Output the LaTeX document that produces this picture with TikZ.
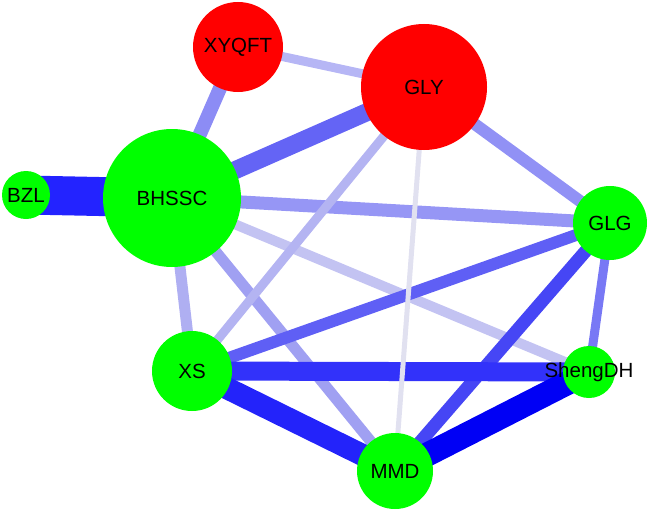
\documentclass[tikz,border=0pt]{standalone}
\usepackage{fontspec}
\setmainfont{Liberation Sans}
\pgfdeclarelayer{edges}
\pgfsetlayers{edges,main}
\definecolor{nred}{RGB}{255,0,0}
\definecolor{ngreen}{RGB}{0,255,0}
\definecolor{eA}{RGB}{35,35,255}
\definecolor{eB}{RGB}{0,0,245}
\definecolor{eC}{RGB}{35,35,250}
\definecolor{eD}{RGB}{50,50,250}
\definecolor{eE}{RGB}{70,70,245}
\definecolor{eF}{RGB}{95,95,245}
\definecolor{eG}{RGB}{100,100,245}
\definecolor{eH}{RGB}{120,120,245}
\definecolor{eI}{RGB}{140,140,245}
\definecolor{eJ}{RGB}{150,150,245}
\definecolor{eK}{RGB}{145,145,245}
\definecolor{eL}{RGB}{160,160,242}
\definecolor{eM}{RGB}{175,175,242}
\definecolor{eN}{RGB}{180,180,242}
\definecolor{eO}{RGB}{182,182,245}
\definecolor{eP}{RGB}{195,195,242}
\definecolor{eQ}{RGB}{225,225,240}
\tikzset{
  vert/.style={circle, inner sep=0pt, minimum size=#1, font=\fontsize{20.5}{24}\selectfont, text=black},
  redv/.style={vert=#1, fill=nred},
  greenv/.style={vert=#1, fill=ngreen},
  link/.style={line cap=butt}
}
\begin{document}
\begin{tikzpicture}[x=1pt,y=-1pt]
\useasboundingbox (0,0) rectangle (650,511);
\node[redv=90pt] (xyqft) at (238,47) {\makebox[0pt]{XYQFT}};
\node[redv=126pt] (gly) at (424,87) {\makebox[0pt]{GLY}};
\node[greenv=138pt] (bhssc) at (172,198) {\makebox[0pt]{BHSSC}};
\node[greenv=48pt] (bzl) at (26,195) {\makebox[0pt]{BZL}};
\node[greenv=74pt] (glg) at (610,223) {\makebox[0pt]{GLG}};
\node[greenv=80pt] (xs) at (192,371) {\makebox[0pt]{XS}};
\node[greenv=52pt] (sdh) at (589,372) {\makebox[0pt]{ShengDH}};
\node[greenv=76pt] (mmd) at (395,471) {\makebox[0pt]{MMD}};
\begin{pgfonlayer}{edges}
\draw[link, line width=39pt, draw=eA] (bzl.center) -- (bhssc.center);
\draw[link, line width=14pt, draw=eI] (xyqft.center) -- (bhssc.center);
\draw[link, line width=18pt, draw=eG] (bhssc.center) -- (gly.center);
\draw[link, line width=13pt, draw=eJ] (bhssc.center) -- (glg.center);
\draw[link, line width=10pt, draw=eP] (bhssc.center) -- (sdh.center);
\draw[link, line width=11pt, draw=eM] (bhssc.center) -- (xs.center);
\draw[link, line width=11pt, draw=eL] (bhssc.center) -- (mmd.center);
\draw[link, line width=9pt, draw=eO] (xyqft.center) -- (gly.center);
\draw[link, line width=12pt, draw=eK] (gly.center) -- (glg.center);
\draw[link, line width=9pt, draw=eN] (gly.center) -- (xs.center);
\draw[link, line width=12pt, draw=eF] (glg.center) -- (xs.center);
\draw[link, line width=9pt, draw=eH] (glg.center) -- (sdh.center);
\draw[link, line width=13pt, draw=eE] (glg.center) -- (mmd.center);
\draw[link, line width=19pt, draw=eD] (xs.center) -- (sdh.center);
\draw[link, line width=22pt, draw=eC] (xs.center) -- (mmd.center);
\draw[link, line width=24pt, draw=eB] (mmd.center) -- (sdh.center);
\draw[link, line width=5pt, draw=eQ] (gly.center) -- (mmd.center);
\end{pgfonlayer}
\end{tikzpicture}
\end{document}
